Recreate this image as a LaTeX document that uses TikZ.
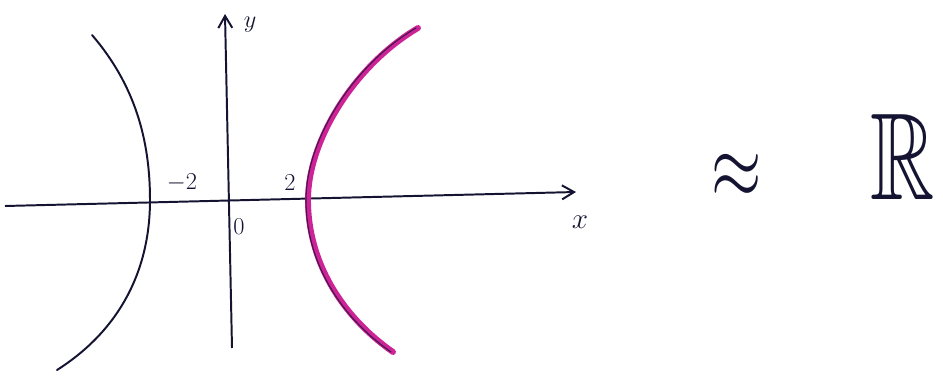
\documentclass[tikz,border=0pt]{standalone}
\usepackage{amssymb}
\usepackage{tikz}
\usetikzlibrary{arrows.meta}
\definecolor{inkblue}{RGB}{20,20,50}
\definecolor{branchpink}{RGB}{205,35,150}
\tikzset{
  axis/.style={draw=inkblue, line width=1.4pt, -{Straight Barb[length=3mm, width=3.5mm]}},
  branch/.style={draw=inkblue, line width=1.4pt, line cap=round},
  hilite/.style={draw=branchpink, line width=4.2pt, line cap=round},
  core/.style={draw=inkblue!75!branchpink, line width=0.8pt, line cap=round},
  tick/.style={font=\fontsize{16}{16}\selectfont, text=inkblue, inner sep=1pt},
}
\begin{document}
\begin{tikzpicture}[x=0.025cm, y=-0.025cm]
\useasboundingbox (0,0) rectangle (943,376);
% axes
\coordinate (xstart) at (5,206);
\coordinate (xend) at (576,192);
\coordinate (ystart) at (232,348);
\coordinate (yend) at (225,14);
\draw[axis] (xstart) -- (xend);
\draw[axis] (ystart) -- (yend);
% left branch
\draw[branch] (92,35) .. controls (135,85) and (150,140) .. (150,200)
  .. controls (150,270) and (120,330) .. (57,370);
% right branch, highlighted
\draw[hilite] (418,28) .. controls (355,65) and (308,140) .. (308,200)
  .. controls (308,260) and (340,315) .. (393,352);
\draw[core, shift={(-2,0)}] (418,28) .. controls (355,65) and (308,140) .. (308,200)
  .. controls (308,260) and (340,315) .. (393,352);
% labels
\node[tick] (ylab) at (250,25) {$y$};
\node[tick, font=\fontsize{20}{20}\selectfont] (xlab) at (580,222) {$x$};
\node[tick] (orig) at (239,227) {$0$};
\node[tick] (mtwo) at (182,183) {$-2$};
\node[tick] (ptwo) at (290,183) {$2$};
\node[text=inkblue, inner sep=0pt] (approx) at (737,176) {\scalebox{4.6}[6.5]{$\approx$}};
\node[text=inkblue, anchor=west, inner sep=0pt, font=\fontsize{88}{88}\selectfont] (reals) at (870,157) {\scalebox{0.72}[1]{$\mathbb{R}$}};
\end{tikzpicture}
\end{document}
